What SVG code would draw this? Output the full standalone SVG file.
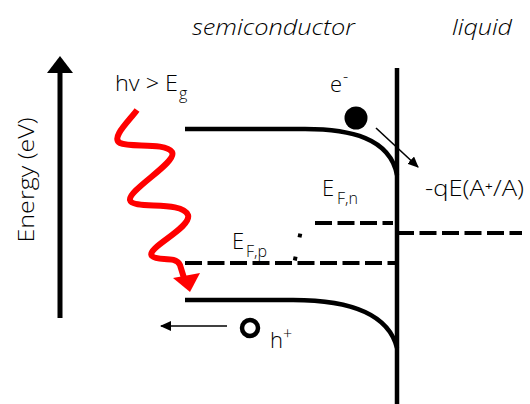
<svg xmlns="http://www.w3.org/2000/svg" width="530" height="404" viewBox="0 0 530 404">
<style>
text{font-family:"Open Sans","Liberation Sans",sans-serif;fill:#000;font-weight:300}
.it{font-style:italic;font-size:22px}
.lbl{font-size:22px}
.sub{font-size:16px}
.band{fill:none;stroke:#000;stroke-width:4.5}
.dash{fill:none;stroke:#000;stroke-width:4;stroke-dasharray:17 5.5}
.thin{fill:none;stroke:#000;stroke-width:1.6}
</style>
<defs>
<marker id="ah" markerWidth="12" markerHeight="10" refX="10" refY="5" orient="auto" markerUnits="userSpaceOnUse">
<path d="M0,0 L11,5 L0,10 Z" fill="#000"/>
</marker>
</defs>
<g id="titles">
<text class="it" x="192" y="35" textLength="163" lengthAdjust="spacingAndGlyphs">semiconductor</text>
<text class="it" x="452" y="35" textLength="60" lengthAdjust="spacingAndGlyphs">liquid</text>
</g>
<g id="energy-axis">
<line x1="60" y1="318" x2="60" y2="70" stroke="#000" stroke-width="5"/>
<polygon points="47,73 73,73 60,56" fill="#000"/>
<text class="lbl" transform="translate(34,180) rotate(-90)" text-anchor="middle" font-size="20" textLength="125" lengthAdjust="spacingAndGlyphs">Energy (eV)</text>
</g>
<g id="photon">
<text class="lbl" x="115" y="91" textLength="63" lengthAdjust="spacingAndGlyphs">hv &gt; E</text>
<text class="sub" x="179" y="99">g</text>
<path d="M137,110 C130,120 110,138 120,143 C130,148 165,142 172,152 C178,162 128,190 130,200 C132,210 182,200 188,215 C192,228 145,248 152,256 C158,262 175,255 180,265 L184,278" fill="none" stroke="#f00" stroke-width="6"/>
<polygon points="173,278 200,273 190,292" fill="#f00"/>
</g>
<g id="interface">
<line x1="397" y1="68" x2="397" y2="404" stroke="#000" stroke-width="4.5"/>
</g>
<g id="conduction-band">
<path class="band" d="M185,129 H305 C350,129 390,138 397,175"/>
</g>
<g id="valence-band">
<path class="band" d="M185,300 H293 C345,300 388,312 397,348"/>
</g>
<g id="fermi-p">
<line class="dash" x1="185" y1="263" x2="395" y2="263"/>
<text class="lbl" x="232" y="249">E</text>
<text class="sub" x="246" y="257">F,p</text>
</g>
<g id="fermi-n">
<line class="dash" x1="315" y1="223" x2="393" y2="223"/>
<text class="lbl" x="322" y="196">E</text>
<text class="sub" x="337" y="204">F,n</text>
</g>
<g id="quasi-split">
<path d="M294.8,260.5 L300.3,233.5" fill="none" stroke="#000" stroke-width="4" stroke-dasharray="4 19.5"/>
</g>
<g id="redox-level">
<line class="dash" x1="397" y1="233" x2="522" y2="233"/>
<text class="lbl" x="425" y="196" textLength="99" lengthAdjust="spacingAndGlyphs">-qE(A⁺/A)</text>
</g>
<g id="electron">
<circle cx="356" cy="118" r="11.5" fill="#000"/>
<text class="lbl" x="330" y="92">e</text>
<text class="sub" x="343" y="82">-</text>
</g>
<g id="hole">
<circle cx="250" cy="328" r="8" fill="none" stroke="#000" stroke-width="4.5"/>
<text class="lbl" x="270" y="348">h</text>
<text class="sub" x="283" y="339">+</text>
</g>
<g id="connectors">
<line class="thin" x1="376" y1="128" x2="418" y2="167" marker-end="url(#ah)"/>
<line class="thin" x1="227" y1="326" x2="161" y2="326" marker-end="url(#ah)"/>
</g>
</svg>
